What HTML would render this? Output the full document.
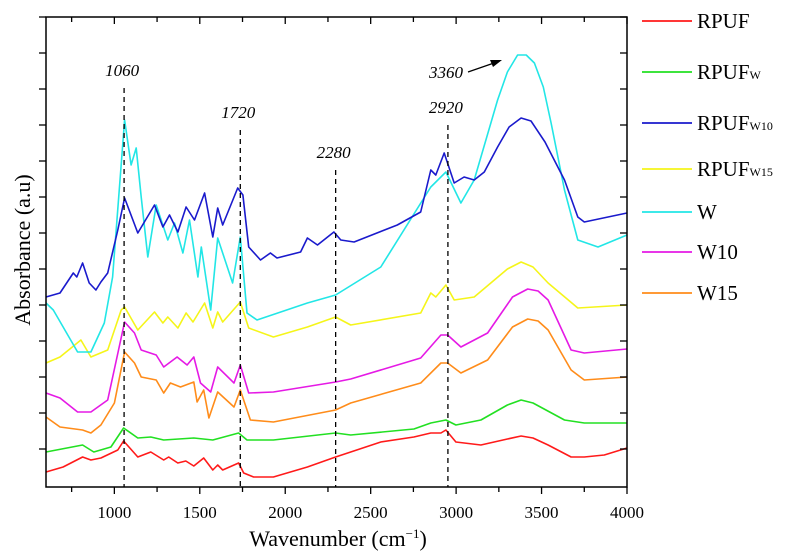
<!DOCTYPE html>
<html><head><meta charset="utf-8"><style>
body{margin:0;background:#fff;}
svg{display:block;font-family:"Liberation Serif",serif;}
</style></head><body>
<svg id="chart" width="796" height="552" viewBox="0 0 796 552">
<g id="plot"></g>
</svg>
<script>
const wnTicks=[1000,1500,2000,2500,3000,3500,4000];
const seriesNames=["RPUF","RPUFW","RPUFW10","RPUFW15","W","W10","W15"];
const rpufWn=[600,700,814,863,921,1020,1054,1137,1213,1289,1318,1371,1418,1465,1523,1576,1605,1634,1727,1757,1815,1931,2130,2295,2383,2559,2753,2852,2911,2940,2999,3145,3300,3380,3450,3538,3673,3750,3867,4000];
const rpufVal=[15,20,30,27,29,37,46,30,35,27,30,24,26,21,29,17,22,17,24,14,10,10,20,30,35,45,50,54,54,57,45,42,48,51,49,42,30,30,32,39];
const rpufwWn=[600,814,880,980,1054,1137,1213,1289,1465,1576,1727,1776,1931,2295,2383,2753,2852,2940,2999,3145,3300,3380,3450,3634,3750,4000];
const rpufwVal=[35,42,35,40,59,49,50,47,49,47,54,47,47,54,52,58,64,67,62,67,82,87,84,67,64,64];
const w15Wn=[600,682,814,863,921,1000,1060,1118,1157,1245,1289,1328,1387,1465,1484,1523,1553,1605,1700,1737,1796,1931,2295,2383,2793,2911,2950,3028,3184,3330,3419,3480,3538,3673,3750,4000];
const w15Val=[70,60,57,54,62,84,135,124,110,107,94,104,100,105,85,97,69,95,80,97,67,65,77,84,104,124,124,114,127,160,168,166,157,117,107,110];
const w10Wn=[600,682,785,863,961,1060,1118,1157,1245,1289,1367,1426,1465,1504,1564,1605,1700,1737,1786,1931,2295,2383,2793,2911,2950,3028,3184,3330,3419,3480,3538,3673,3750,4000];
const w10Val=[94,89,75,75,87,165,154,137,132,120,130,122,130,104,95,120,104,122,94,95,105,108,129,152,152,140,154,190,198,196,187,137,134,138];
const rpufw15Wn=[600,682,804,863,961,1040,1060,1137,1235,1284,1313,1372,1420,1460,1528,1576,1605,1634,1737,1786,1931,2130,2295,2383,2793,2852,2881,2940,2989,3106,3300,3380,3450,3538,3712,4000];
const rpufw15Val=[124,130,147,130,137,177,180,157,175,164,170,159,174,165,184,159,175,165,185,159,150,160,170,162,174,194,190,202,187,190,218,225,220,204,179,182];
const wWn=[600,643,785,863,941,990,1060,1098,1128,1157,1196,1245,1313,1352,1401,1440,1489,1509,1564,1605,1692,1737,1776,1835,2130,2295,2559,2852,2940,3028,3106,3243,3300,3360,3410,3458,3510,3556,3634,3712,3830,4000];
const wVal=[184,177,135,135,164,210,367,322,339,290,230,282,247,264,234,267,210,240,177,249,204,250,174,167,184,192,220,300,315,284,307,387,415,432,432,424,400,364,297,247,240,252];
const rpufw10Wn=[600,682,760,780,814,853,892,921,961,1020,1060,1137,1235,1284,1323,1372,1420,1469,1528,1576,1605,1634,1722,1752,1786,1855,1913,1952,2090,2130,2189,2285,2325,2403,2656,2793,2852,2881,2930,2989,3047,3106,3165,3243,3310,3380,3438,3520,3634,3712,3750,4000];
const rpufw10Val=[190,194,214,210,224,204,197,205,214,257,289,254,282,260,272,255,280,267,294,250,279,262,299,292,240,227,234,229,235,249,242,255,247,245,262,275,317,312,334,304,310,307,315,340,360,369,366,345,307,270,265,274];
const peakLabel=["1060","1720","2280","2920"];
const peakLineX=[1057,1737,2295,2952];
const peakTop=[88,130,170,125];

const X0=46,X1=627,Y0=487,Y1=17;
const xs=wn=>X0+(wn-600)*(X1-X0)/3400;
const ys=v=>Y0-v;
const NS="http://www.w3.org/2000/svg";
const svg=document.getElementById('chart');
function mk(tag,attrs,parent){const e=document.createElementNS(NS,tag);for(const k in attrs)e.setAttribute(k,attrs[k]);(parent||svg).appendChild(e);return e;}

const series=[
 [rpufWn,rpufVal,"#ff1a1a","series-rpuf"],
 [rpufwWn,rpufwVal,"#22e022","series-rpufw"],
 [w15Wn,w15Val,"#ff8c1a","series-w15"],
 [w10Wn,w10Val,"#e51ae5","series-w10"],
 [rpufw15Wn,rpufw15Val,"#f5f51a","series-rpufw15"],
 [wWn,wVal,"#22e6e6","series-w"],
 [rpufw10Wn,rpufw10Val,"#1a1acc","series-rpufw10"]
];
series.forEach(s=>{
  const d=s[0].map((w,i)=>(i?'L':'M')+xs(w).toFixed(1)+','+ys(s[1][i]).toFixed(1)).join('');
  const p=mk('path',{d:d,fill:'none',stroke:s[2],'stroke-width':1.6,'stroke-linejoin':'round'});
  
  
});

peakLineX.forEach((w,i)=>{
  const l=mk('line',{x1:xs(w),x2:xs(w),y1:peakTop[i],y2:Y0,stroke:'#000','stroke-width':1.3,'stroke-dasharray':'5,4'});
  
  
  const t=mk('text',{x:xs(w)-2,y:peakTop[i]-12,'text-anchor':'middle','font-size':17,'font-style':'italic'});
  t.textContent=peakLabel[i];
  
  
});
const t3=mk('text',{x:446,y:78,'text-anchor':'middle','font-size':17,'font-style':'italic'});
t3.textContent="3360";


const ar=mk('line',{x1:468,y1:72,x2:494,y2:63,stroke:'#000','stroke-width':1.2});


mk('polygon',{points:'502,60 490,60 493,67',fill:'#000'});

const fr=mk('rect',{x:X0,y:Y1,width:X1-X0,height:Y0-Y1,fill:'none',stroke:'#000','stroke-width':1.5});


for(let y=Y1;y<=Y0-20;y+=36){
  mk('line',{x1:X0-7,x2:X0,y1:y,y2:y,stroke:'#000','stroke-width':1.3});
  mk('line',{x1:X1-7,x2:X1,y1:y,y2:y,stroke:'#000','stroke-width':1.3});
}
for(let w=750;w<=4000;w+=250){
  const major=(w%500===0);
  mk('line',{x1:xs(w),x2:xs(w),y1:Y0,y2:Y0+(major?7:5),stroke:'#000','stroke-width':1.3});
  mk('line',{x1:xs(w),x2:xs(w),y1:Y1,y2:Y1+(major?7:5),stroke:'#000','stroke-width':1.3});
}
wnTicks.forEach(w=>{
  const t=mk('text',{x:xs(w),y:518,'text-anchor':'middle','font-size':17});
  t.textContent=w;
  
  
});
const xt=mk('text',{x:338,y:546,'text-anchor':'middle','font-size':22});
xt.innerHTML='Wavenumber (cm<tspan dy="-8" font-size="13">−1</tspan><tspan dy="8">)</tspan>';


const yt=mk('text',{x:0,y:0,'text-anchor':'middle','font-size':22,transform:'translate(30,250) rotate(-90)'});
yt.textContent='Absorbance (a.u)';



const legMain=["RPUF","RPUF","RPUF","RPUF","W","W10","W15"];
const legSub=["","W","W10","W15","","",""];
const legColor=["#ff1a1a","#22e022","#1a1acc","#f5f51a","#22e6e6","#e51ae5","#ff8c1a"];
const legY=[21,72,123,169,212,252,293];
legMain.forEach((m,i)=>{
  const g=mk('g',{});
  
  
  mk('line',{x1:642,x2:692,y1:legY[i],y2:legY[i],stroke:legColor[i],'stroke-width':1.8},g);
  const t=mk('text',{x:697,y:legY[i]+7,'font-size':21},g);
  t.innerHTML=m+(legSub[i]?'<tspan font-size="12">'+legSub[i]+'</tspan>':'');
});
</script>
</body></html>
